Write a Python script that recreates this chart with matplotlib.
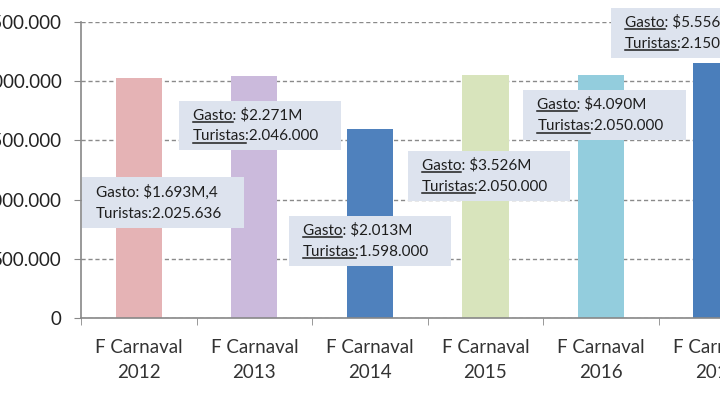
import matplotlib.pyplot as plt
from matplotlib.lines import Line2D
from matplotlib.patches import Rectangle
import numpy as np

plt.rcParams['font.family'] = ['Lato', 'DejaVu Sans']

# Data
categorias = ['F Carnaval\n2012', 'F Carnaval\n2013', 'F Carnaval\n2014',
              'F Carnaval\n2015', 'F Carnaval\n2016', 'F Carnaval\n2017']
turistas = [2025636, 2046000, 1598000, 2050000, 2050000, 2150000]
gasto = ['$1.693M,4', '$2.271M', '$2.013M', '$3.526M', '$4.090M', '$5.556M']
turistas_txt = ['2.025.636', '2.046.000', '1.598.000', '2.050.000', '2.050.000', '2.150.000']
colores = ['#e5b3b5', '#cbbadc', '#4f81bd', '#d8e4bc', '#93cddd', '#4a7ebb']

# label box anchors (category offset, y value)
etiqueta_x = [-0.37, 0.47, 1.42, 2.45, 3.45, 4.21]
etiqueta_y = [975000, 1627000, 653000, 1199000, 1712000, 2407000]
subrayado = [False, True, True, True, True, True]

fig = plt.figure(figsize=(7.2, 4.05), dpi=100)
ax = fig.add_axes([81 / 720, (405 - 318) / 405, (720 - 81) / 720, (318 - 22) / 405])

x = np.arange(len(categorias))
ax.bar(x, turistas, width=0.4, color=colores, zorder=2)

ax.set_xlim(-0.5, 5.03)
ax.set_ylim(0, 2500000)
ax.set_yticks(np.arange(0, 2500001, 500000))
ax.set_yticklabels(['0', '500.000', '1.000.000', '1.500.000', '2.000.000', '2.500.000'],
                   fontsize=13.5, color='#222222')
ax.set_xticks(x)
ax.set_xticklabels(categorias, fontsize=13.5, color='#333333', linespacing=1.6)
ax.set_xticks(np.arange(-0.5, 5.5, 1), minor=True)
ax.tick_params(axis='x', which='major', length=0, pad=15)
ax.tick_params(axis='x', which='minor', length=5, color='#888888')
ax.tick_params(axis='y', length=5, color='#888888', pad=9)

ax.yaxis.grid(True, linestyle=(0, (3, 2)), color='#8a8a8a', linewidth=1, zorder=0)
ax.set_axisbelow(True)
for s in ['top', 'right']:
    ax.spines[s].set_visible(False)
for s in ['left', 'bottom']:
    ax.spines[s].set_color('#888888')
    ax.spines[s].set_linewidth(1.2)

textos = []
for i in range(len(categorias)):
    txt = 'Gasto: ' + gasto[i] + '\nTuristas:' + turistas_txt[i]
    t = ax.text(etiqueta_x[i], etiqueta_y[i], txt, fontsize=11, color='#1e1e1e',
                ha='left', va='center', linespacing=1.65, zorder=5, clip_on=False)
    textos.append(t)

# boxes and underlines from the rendered text layout (pixel paddings)
fig.canvas.draw()
renderer = fig.canvas.get_renderer()
inv = ax.transData.inverted()
for i, t in enumerate(textos):
    bb = t.get_window_extent(renderer)
    p0 = inv.transform((bb.x0 - 14, bb.y0 - 7))
    p1 = inv.transform((bb.x1 + 22, bb.y1 + 7))
    ax.add_patch(Rectangle((p0[0], p0[1]), p1[0] - p0[0], p1[1] - p0[1],
                           facecolor='#dde3ee', edgecolor='none', zorder=4, clip_on=False))
    if not subrayado[i]:
        continue
    px, py = t.get_transform().transform(t.get_unitless_position())
    _, info, _ = t._get_layout(renderer)
    for (linea, wh, lx, ly), palabra in zip(info, ['Gasto', 'Turistas']):
        w, h, d = renderer.get_text_width_height_descent(palabra, t.get_fontproperties(), ismath=False)
        a = inv.transform((px + lx, py + ly - 2.5))
        b = inv.transform((px + lx + w, py + ly - 2.5))
        ax.add_line(Line2D([a[0], b[0]], [a[1], b[1]], color='#1e1e1e',
                           linewidth=1.1, zorder=6, clip_on=False))

fig.savefig('out.png', dpi=100)
